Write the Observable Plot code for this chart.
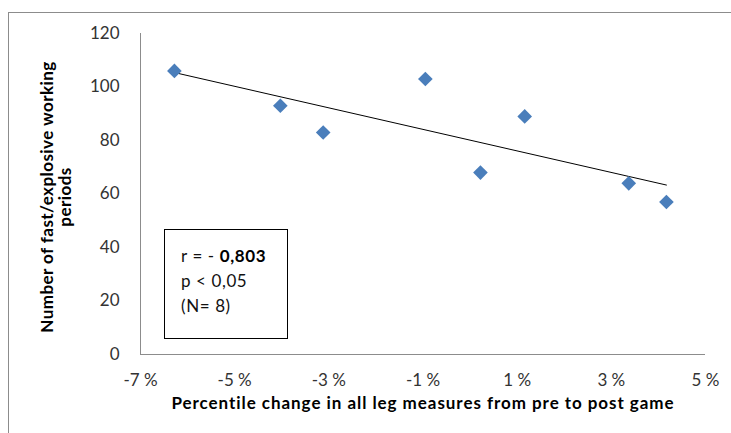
<!DOCTYPE html>
<html>
<head>
<meta charset="utf-8">
<script src="https://cdn.jsdelivr.net/npm/d3@7"></script>
<script src="https://cdn.jsdelivr.net/npm/@observablehq/plot@0.6"></script>
<style>
  html, body { margin: 0; padding: 0; background: #fff; overflow: hidden; }
  #wrap { position: relative; width: 731px; height: 433px; overflow: hidden; }
  #frame { position: absolute; left: 8px; top: 12px; width: 1000px; height: 1000px; border: 1px solid #8c8c8c; box-sizing: border-box; pointer-events: none; }
  #chart { position: absolute; left: 0; top: 0; }
  #stats { position: absolute; left: 164px; top: 229px; width: 124px; height: 110px; border: 1px solid #000; box-sizing: border-box; font-family: Lato, sans-serif; font-size: 17px; letter-spacing: 0.6px; word-spacing: 0px; color: #111; padding: 13px 0 0 16px; line-height: 25px; background: #fff; }
  #stats b { font-weight: bold; color: #000; }
</style>
</head>
<body>
<div id="wrap">
  <div id="frame"></div>
  <div id="chart"></div>
  <div id="stats"></div>
</div>
<script>
// Data
const changePct = [-6.28, -4.03, -3.12, -0.95, 0.22, 1.16, 3.37, 4.17];
const workingPeriods = [106, 93, 83, 103, 68, 89, 64, 57];
const xTicks = [-7, -5, -3, -1, 1, 3, 5];
const xTickLabels = ["-7 %", "-5 %", "-3 %", "-1 %", "1 %", "3 %", "5 %"];
const yTicks = [0, 20, 40, 60, 80, 100, 120];
const xTitle = "Percentile change in all leg measures from pre to post game";
const yTitle = "Number of fast/explosive working\nperiods";
const statsLines = [["r = - ", "0,803"], ["p < 0,05", ""], ["(N= 8)", ""]];

const data = changePct.map((x, i) => ({x, y: workingPeriods[i]}));
const xLabelMap = new Map(xTicks.map((t, i) => [t, xTickLabels[i]]));

const chart = Plot.plot({
  width: 731,
  height: 433,
  marginLeft: 140,
  marginRight: 26,
  marginTop: 33,
  marginBottom: 79,
  style: {fontFamily: "Lato, sans-serif", background: "transparent"},
  x: {domain: [-7, 5]},
  y: {domain: [0, 120]},
  marks: [
    Plot.ruleX([-7], {stroke: "#8c8c8c", strokeWidth: 1}),
    Plot.ruleY([0], {stroke: "#8c8c8c", strokeWidth: 1}),
    Plot.axisX(xTicks, {tickSize: 0, tickPadding: 19, fontSize: 17, fill: "#333", label: null, tickFormat: d => xLabelMap.get(d)}),
    Plot.axisY(yTicks, {tickSize: 0, tickPadding: 21, fontSize: 17, fill: "#333", label: null}),
    Plot.linearRegressionY(data, {x: "x", y: "y", stroke: "#000", strokeWidth: 1, ci: 0}),
    Plot.dot(data, {x: "x", y: "y", symbol: "diamond2", r: 6.6, fill: "#4a7ebb", stroke: "none"}),
    Plot.text([xTitle], {frameAnchor: "bottom", dy: 54, fontSize: 17, fontWeight: "bold", fill: "#000"}),
    Plot.text([yTitle], {frameAnchor: "left", textAnchor: "middle", dx: -84, dy: 3, rotate: -90, fontSize: 17, fontWeight: "bold", fill: "#000", lineHeight: 1.06})
  ]
});
document.getElementById("chart").appendChild(chart);

// letter spacing to mimic the wide rendering of the reference titles
const textGroups = d3.select(chart).selectAll('g[aria-label="text"]').nodes();
if (textGroups[0]) d3.select(textGroups[0]).selectAll("text").style("letter-spacing", "0.95px");
if (textGroups[1]) d3.select(textGroups[1]).selectAll("text").style("letter-spacing", "0.45px");

const stats = d3.select("#stats");
statsLines.forEach(([plain, bold]) => {
  const line = stats.append("div");
  line.append("span").text(plain);
  if (bold) line.append("b").text(bold);
});
</script>
</body>
</html>
